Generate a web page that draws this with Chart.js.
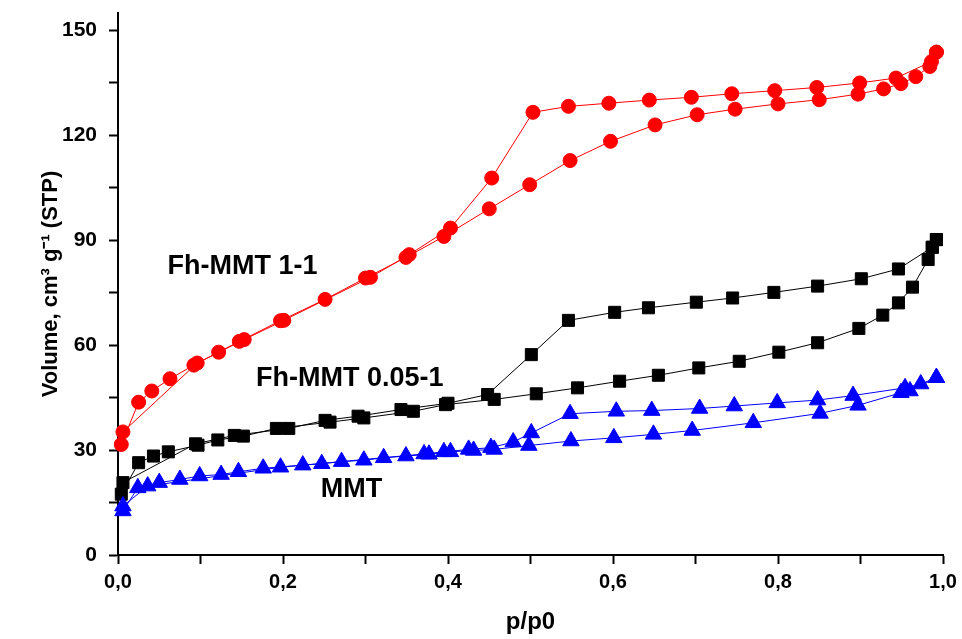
<!DOCTYPE html>
<html>
<head>
<meta charset="utf-8">
<script src="https://cdn.jsdelivr.net/npm/chart.js@4.4.1/dist/chart.umd.min.js"></script>
<style>
  html, body { margin: 0; padding: 0; background: #fff; }
</style>
</head>
<body>
<canvas id="iso" width="962" height="639"></canvas>
<script>
// [p/p0, volume cm3/g]
const fh11Ads = [[0.004,31.6],[0.025,43.7],[0.041,46.9],[0.063,50.4],[0.092,54.3],[0.122,58.0],[0.147,61.1],[0.197,67.0],[0.251,73.1],[0.300,79.2],[0.349,85.1],[0.395,91.1],[0.450,99.0],[0.499,105.9],[0.548,112.8],[0.597,118.3],[0.651,123.0],[0.702,125.9],[0.748,127.5],[0.800,129.0],[0.850,130.2],[0.897,131.8],[0.928,133.3],[0.949,134.8],[0.967,136.8],[0.984,139.7],[0.992,143.8]];
const fh11Des = [[0.992,143.8],[0.986,141.1],[0.943,136.4],[0.899,135.0],[0.847,133.7],[0.796,132.8],[0.744,131.9],[0.695,130.9],[0.644,130.1],[0.595,129.2],[0.546,128.3],[0.503,126.6],[0.453,107.8],[0.403,93.5],[0.353,85.9],[0.306,79.4],[0.201,67.1],[0.153,61.6],[0.096,54.9],[0.006,35.2]];

const fh005Ads = [[0.004,17.4],[0.025,26.4],[0.043,28.3],[0.061,29.5],[0.097,31.4],[0.121,32.9],[0.152,34.0],[0.192,36.2],[0.257,38.0],[0.298,39.2],[0.358,41.1],[0.397,43.0],[0.456,44.5],[0.507,46.1],[0.557,47.8],[0.608,49.7],[0.655,51.4],[0.704,53.5],[0.753,55.4],[0.801,58.0],[0.848,60.7],[0.898,64.8],[0.927,68.6],[0.946,72.1],[0.963,76.6],[0.982,84.5],[0.987,88.0],[0.992,90.2]];
const fh005Des = [[0.992,90.2],[0.987,88.0],[0.946,81.8],[0.901,79.0],[0.848,76.9],[0.795,75.1],[0.745,73.5],[0.701,72.3],[0.643,70.7],[0.602,69.4],[0.546,67.1],[0.501,57.3],[0.448,45.9],[0.400,43.4],[0.343,41.6],[0.291,39.7],[0.251,38.5],[0.207,36.2],[0.141,34.2],[0.094,31.8],[0.006,20.7]];

const mmtAds = [[0.006,12.6],[0.024,19.2],[0.050,20.7],[0.075,21.6],[0.099,22.6],[0.125,23.0],[0.146,23.8],[0.176,24.8],[0.224,25.7],[0.247,26.1],[0.271,26.7],[0.298,27.1],[0.322,27.8],[0.349,28.3],[0.377,28.8],[0.403,29.5],[0.431,29.9],[0.456,30.2],[0.498,31.3],[0.549,32.6],[0.601,33.5],[0.649,34.5],[0.696,35.6],[0.770,37.8],[0.851,40.5],[0.897,42.8],[0.949,46.4],[0.960,46.9],[0.992,50.7]];
const mmtDes = [[0.992,50.7],[0.973,48.9],[0.954,47.8],[0.891,45.6],[0.848,44.3],[0.799,43.5],[0.747,42.6],[0.705,41.9],[0.647,41.3],[0.604,41.1],[0.548,40.4],[0.501,34.9],[0.479,32.3],[0.452,30.7],[0.425,30.2],[0.395,29.5],[0.371,28.9],[0.197,25.1],[0.036,19.7],[0.006,14.0]];

// axis ticks (labelled ones are every other)
const yTicks = [0, 15, 30, 45, 60, 75, 90, 105, 120, 135, 150];
const xTicks = [0, 0.1, 0.2, 0.3, 0.4, 0.5, 0.6, 0.7, 0.8, 0.9, 1.0];

// text labels placed beside each curve (data coordinates)
const seriesNames = ['Fh-MMT 1-1', 'Fh-MMT 0.05-1', 'MMT'];
const nameX = [0.151, 0.281, 0.283];
const nameY = [82.4, 50.6, 18.6];

const FONT = '"Liberation Sans", Arial, sans-serif';

function pts(arr) {
  return arr.map(p => ({x: p[0], y: p[1]}));
}

function branch(arr, color, style, radius) {
  return {
    data: pts(arr),
    showLine: true,
    borderColor: color,
    backgroundColor: color,
    borderWidth: 1,
    pointStyle: style,
    pointRadius: radius,
    pointBorderWidth: 1,
    pointBorderColor: color,
    pointBackgroundColor: color,
    clip: false
  };
}

const namesPlugin = {
  id: 'names',
  afterDatasetsDraw(chart) {
    const ctx = chart.ctx;
    const xs = chart.scales.x, ys = chart.scales.y;
    ctx.save();
    ctx.font = 'bold 27px ' + FONT;
    ctx.fillStyle = '#000';
    ctx.textAlign = 'center';
    ctx.textBaseline = 'middle';
    seriesNames.forEach((n, i) => {
      ctx.fillText(n, xs.getPixelForValue(nameX[i]), ys.getPixelForValue(nameY[i]));
    });
    ctx.restore();
  }
};

new Chart(document.getElementById('iso'), {
  type: 'scatter',
  data: {
    datasets: [
      branch(mmtAds, '#0000ff', 'triangle', 9.5),
      branch(mmtDes, '#0000ff', 'triangle', 9.5),
      branch(fh005Ads, '#000000', 'rect', 8.5),
      branch(fh005Des, '#000000', 'rect', 8.5),
      branch(fh11Ads, '#ff0000', 'circle', 7),
      branch(fh11Des, '#ff0000', 'circle', 7)
    ]
  },
  options: {
    responsive: false,
    animation: false,
    layout: { padding: { left: 0, right: 19, top: 13, bottom: 0 } },
    plugins: { legend: { display: false }, tooltip: { enabled: false } },
    scales: {
      x: {
        type: 'linear',
        min: 0,
        max: 1,
        afterBuildTicks: s => { s.ticks = xTicks.map(v => ({value: v})); },
        afterFit: s => { s.height = 84; s.paddingLeft = 0; s.paddingRight = 0; },
        border: { color: '#000', width: 2 },
        grid: { drawOnChartArea: false, drawTicks: true, tickLength: 9, tickColor: '#000', tickWidth: 2 },
        ticks: {
          padding: 6,
          color: '#000',
          font: { family: FONT, size: 20, weight: 'bold' },
          maxRotation: 0,
          autoSkip: false,
          callback: v => (Math.round(v * 10) % 2 === 0) ? v.toFixed(1).replace('.', ',') : ''
        },
        title: {
          display: true,
          text: 'p/p0',
          color: '#000',
          font: { family: FONT, size: 24, weight: 'bold' },
          padding: { top: 0, bottom: 2 }
        }
      },
      y: {
        type: 'linear',
        min: 0,
        max: 155,
        afterBuildTicks: s => { s.ticks = yTicks.map(v => ({value: v})); },
        afterFit: s => { s.width = 118; s.paddingTop = 0; s.paddingBottom = 0; },
        border: { color: '#000', width: 2 },
        grid: { drawOnChartArea: false, drawTicks: true, tickLength: 9, tickColor: '#000', tickWidth: 2 },
        ticks: {
          padding: 12,
          color: '#000',
          font: { family: FONT, size: 21, weight: 'bold' },
          autoSkip: false,
          callback: v => (v % 30 === 0) ? String(v) : ''
        },
        title: {
          display: true,
          text: 'Volume, cm³ g⁻¹ (STP)',
          color: '#000',
          font: { family: FONT, size: 22, weight: 'bold' },
          padding: { top: 38, bottom: 0 }
        }
      }
    }
  },
  plugins: [namesPlugin]
});
</script>
</body>
</html>
